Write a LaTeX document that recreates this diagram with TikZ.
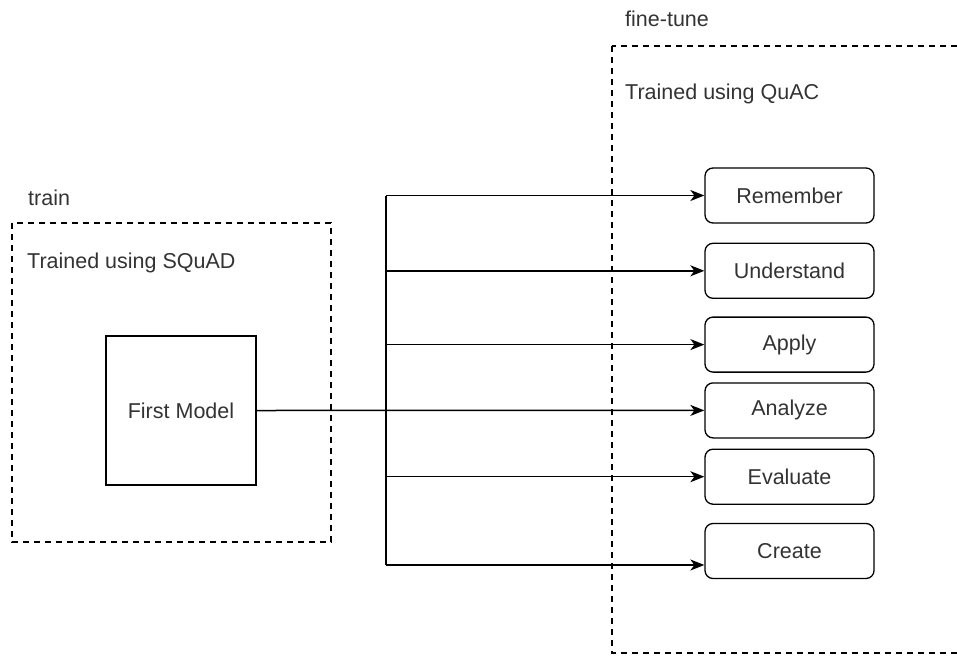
\documentclass[tikz,border=0pt]{standalone}
\usepackage{fontspec}
\setmainfont{Liberation Sans}
\usetikzlibrary{arrows.meta, positioning}

\begin{document}
\begin{tikzpicture}[x=1pt, y=-1pt, node distance=20pt, font=\fontsize{21.5}{25}\selectfont, text=black!80]

% Define styles
\tikzstyle{model} = [rectangle, draw=black, line width=1.3pt, fill=white,
    minimum width=150pt, minimum height=149pt]
\tikzstyle{stepbox} = [rectangle, draw=black, line width=1.3pt, fill=white,
    rounded corners=8pt, minimum width=169pt, minimum height=55pt]
\tikzstyle{group} = [draw=black, line width=1.4pt, dash pattern=on 6pt off 5pt]
\tikzstyle{line} = [draw=black, line width=1.5pt, -{Stealth[length=14pt, width=11pt, inset=4pt]}]
\tikzstyle{wire} = [draw=black, line width=1.5pt]
\tikzstyle{caption} = [anchor=base west, inner sep=0pt]

\clip (0,0) rectangle (957,655);

% Groups
\draw [group] (12,223) rectangle (331,542);
\draw [group] (612,46) rectangle (975,653);

% Group labels
\node [caption] (train) at (28,205) {train};
\node [caption] (squad) at (27,268) {Trained using SQuAD};
\node [caption] (finetune) at (625,27) {fine-tune};
\node [caption] (quac) at (625,100) {Trained using QuAC};

% Place nodes
\node [model] (model) at (181,410.5) {First Model};
\node [stepbox] (remember) at (789.5,195.5) {Remember};
\node [stepbox, below=19pt of remember] (understand) {Understand};
\node [stepbox, below=17.5pt of understand] (apply) {Apply};
\node [stepbox, below=9.5pt of apply] (analyze) {Analyze};
\node [stepbox, below=10pt of analyze] (evaluate) {Evaluate};
\node [stepbox, below=18pt of evaluate] (create) {Create};

% Draw edges
\coordinate (bus) at (386,0);
\coordinate (busbot) at (386,565);
\path [line] (model.east) -- (analyze.west);
\path [wire] (bus |- remember) -- (busbot);
\foreach \s in {remember, understand, apply, evaluate}
    \path [line] (bus |- \s) -- (\s.west);
\path [line] (busbot) -- (busbot -| create.west);

\end{tikzpicture}
\end{document}
